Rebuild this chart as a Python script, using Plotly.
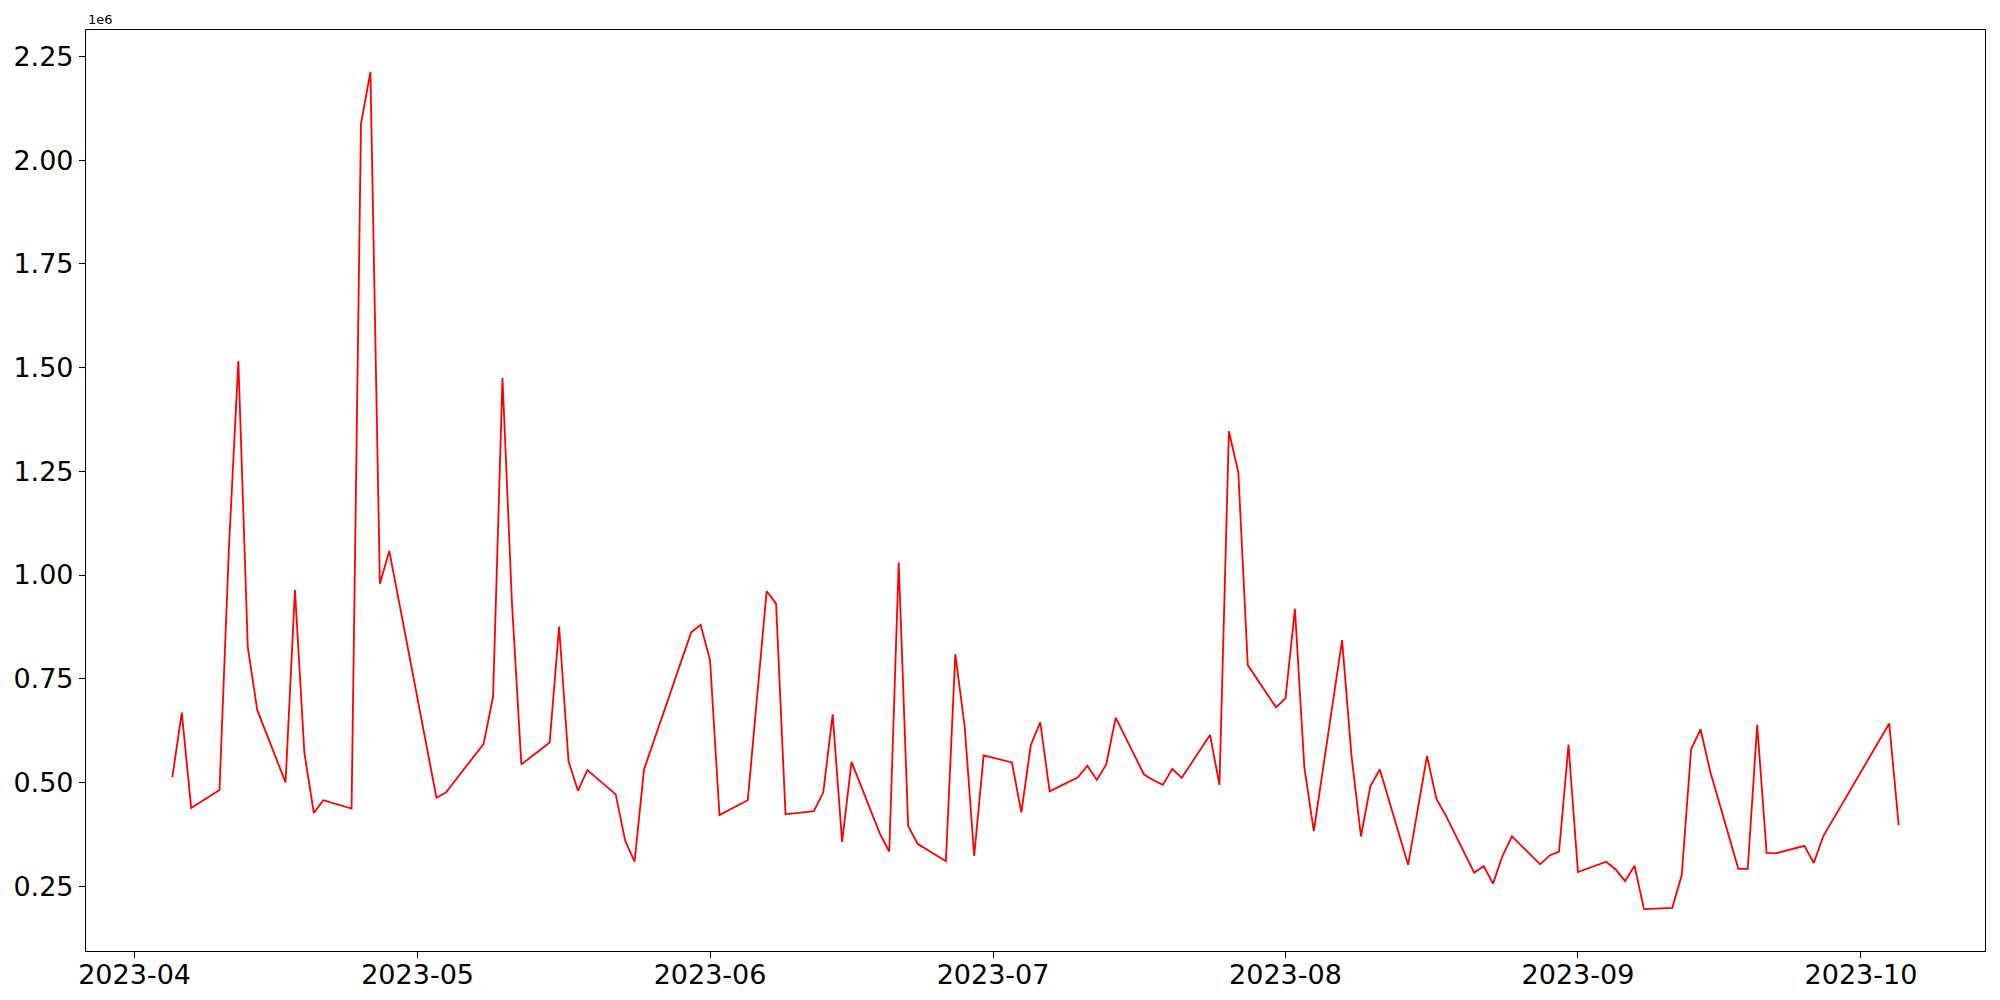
import plotly.graph_objects as go

dates = [
    "2023-04-05", "2023-04-06", "2023-04-07", "2023-04-10", "2023-04-11", "2023-04-12", "2023-04-13", "2023-04-14",
    "2023-04-17", "2023-04-18", "2023-04-19", "2023-04-20", "2023-04-21",
    "2023-04-24", "2023-04-25", "2023-04-26", "2023-04-27", "2023-04-28",
    "2023-05-03", "2023-05-04",
    "2023-05-08", "2023-05-09", "2023-05-10", "2023-05-11", "2023-05-12",
    "2023-05-15", "2023-05-16", "2023-05-17", "2023-05-18", "2023-05-19",
    "2023-05-22", "2023-05-23", "2023-05-24", "2023-05-25",
    "2023-05-30", "2023-05-31", "2023-06-01", "2023-06-02",
    "2023-06-05", "2023-06-07", "2023-06-08", "2023-06-09",
    "2023-06-12", "2023-06-13", "2023-06-14", "2023-06-15", "2023-06-16",
    "2023-06-19", "2023-06-20", "2023-06-21", "2023-06-22", "2023-06-23",
    "2023-06-26", "2023-06-27", "2023-06-28", "2023-06-29", "2023-06-30",
    "2023-07-03", "2023-07-04", "2023-07-05", "2023-07-06", "2023-07-07",
    "2023-07-10", "2023-07-11", "2023-07-12", "2023-07-13", "2023-07-14",
    "2023-07-17", "2023-07-18", "2023-07-19", "2023-07-20", "2023-07-21",
    "2023-07-24", "2023-07-25", "2023-07-26", "2023-07-27", "2023-07-28",
    "2023-07-31", "2023-08-01", "2023-08-02", "2023-08-03", "2023-08-04",
    "2023-08-07", "2023-08-08", "2023-08-09", "2023-08-10", "2023-08-11",
    "2023-08-14", "2023-08-16", "2023-08-17", "2023-08-18",
    "2023-08-21", "2023-08-22", "2023-08-23", "2023-08-24", "2023-08-25",
    "2023-08-28", "2023-08-29", "2023-08-30", "2023-08-31", "2023-09-01",
    "2023-09-04", "2023-09-05", "2023-09-06", "2023-09-07", "2023-09-08",
    "2023-09-11", "2023-09-12", "2023-09-13", "2023-09-14", "2023-09-15",
    "2023-09-18", "2023-09-19", "2023-09-20", "2023-09-21", "2023-09-22",
    "2023-09-25", "2023-09-26", "2023-09-27",
    "2023-10-04", "2023-10-05",
]

# values in units of 1e6
values = [
    0.5125, 0.6685, 0.4384, 0.4817, 1.0655, 1.516, 0.826, 0.6747,
    0.500, 0.9635, 0.571, 0.426, 0.457,
    0.437, 2.088, 2.213, 0.979, 1.058,
    0.463, 0.4755,
    0.593, 0.707, 1.475, 0.934, 0.5434,
    0.596, 0.8755, 0.551, 0.480, 0.5295,
    0.471, 0.3597, 0.3087, 0.531,
    0.8616, 0.880, 0.795, 0.421,
    0.457, 0.961, 0.931, 0.423,
    0.4307, 0.4755, 0.664, 0.3566, 0.5496,
    0.3766, 0.3334, 1.030, 0.395, 0.352,
    0.310, 0.809, 0.633, 0.3226, 0.565,
    0.548, 0.4276, 0.590, 0.645, 0.4786,
    0.5125, 0.540, 0.506, 0.5434, 0.656,
    0.519, 0.505, 0.494, 0.5326, 0.511,
    0.6145, 0.494, 1.3465, 1.2477, 0.7828,
    0.6809, 0.7025, 0.9187, 0.5357, 0.3828,
    0.843, 0.5635, 0.370, 0.491, 0.531,
    0.301, 0.5635, 0.460, 0.420,
    0.2824, 0.298, 0.256, 0.3226, 0.370,
    0.3025, 0.324, 0.333, 0.591, 0.284,
    0.3087, 0.290, 0.262, 0.299, 0.1944,
    0.1975, 0.276, 0.5805, 0.628, 0.528,
    0.2917, 0.2917, 0.639, 0.330, 0.329,
    0.347, 0.3056, 0.370,
    0.642, 0.3967,
]

x_ticks = ["2023-04-01", "2023-05-01", "2023-06-01", "2023-07-01", "2023-08-01", "2023-09-01", "2023-10-01"]
x_ticklabels = ["2023-04", "2023-05", "2023-06", "2023-07", "2023-08", "2023-09", "2023-10"]
y_ticks = [0.25, 0.50, 0.75, 1.00, 1.25, 1.50, 1.75, 2.00, 2.25]
y_ticklabels = ["0.25", "0.50", "0.75", "1.00", "1.25", "1.50", "1.75", "2.00", "2.25"]

fig = go.Figure()
fig.add_trace(go.Scatter(
    x=dates, y=values, mode="lines",
    line=dict(color="#ff0000", width=1.8),
    showlegend=False,
))

font_family = "DejaVu Sans"
# the page body has an 8px margin, so the figure is 8px smaller and margins compensate
fig.update_layout(
    width=1992, height=992,
    margin=dict(l=78, r=15, t=22, b=49),
    paper_bgcolor="white", plot_bgcolor="white",
    font=dict(family=font_family, color="black", size=27),
)
fig.update_xaxes(
    type="date", automargin=False,
    range=["2023-03-26 20:24", "2023-10-14 03:36"],
    tickvals=x_ticks, ticktext=x_ticklabels,
    showgrid=False, zeroline=False,
    showline=True, linecolor="black", linewidth=1.2, mirror=True,
    ticks="outside", ticklen=6, tickwidth=1.2, tickcolor="black",
    ticklabelstandoff=-7,
    tickfont=dict(size=27, family=font_family, color="black"),
)
fig.update_yaxes(
    automargin=False,
    range=[0.0935, 2.314],
    tickvals=y_ticks, ticktext=y_ticklabels,
    showgrid=False, zeroline=False,
    showline=True, linecolor="black", linewidth=1.2, mirror=True,
    ticks="outside", ticklen=6, tickwidth=1.2, tickcolor="black",
    tickfont=dict(size=27, family=font_family, color="black"),
)
fig.add_annotation(
    text="1e6", xref="paper", yref="paper", x=0, y=1,
    xanchor="left", yanchor="bottom", showarrow=False,
    font=dict(size=13, family=font_family, color="black"),
    yshift=1,
)

fig.write_html("out.html")
